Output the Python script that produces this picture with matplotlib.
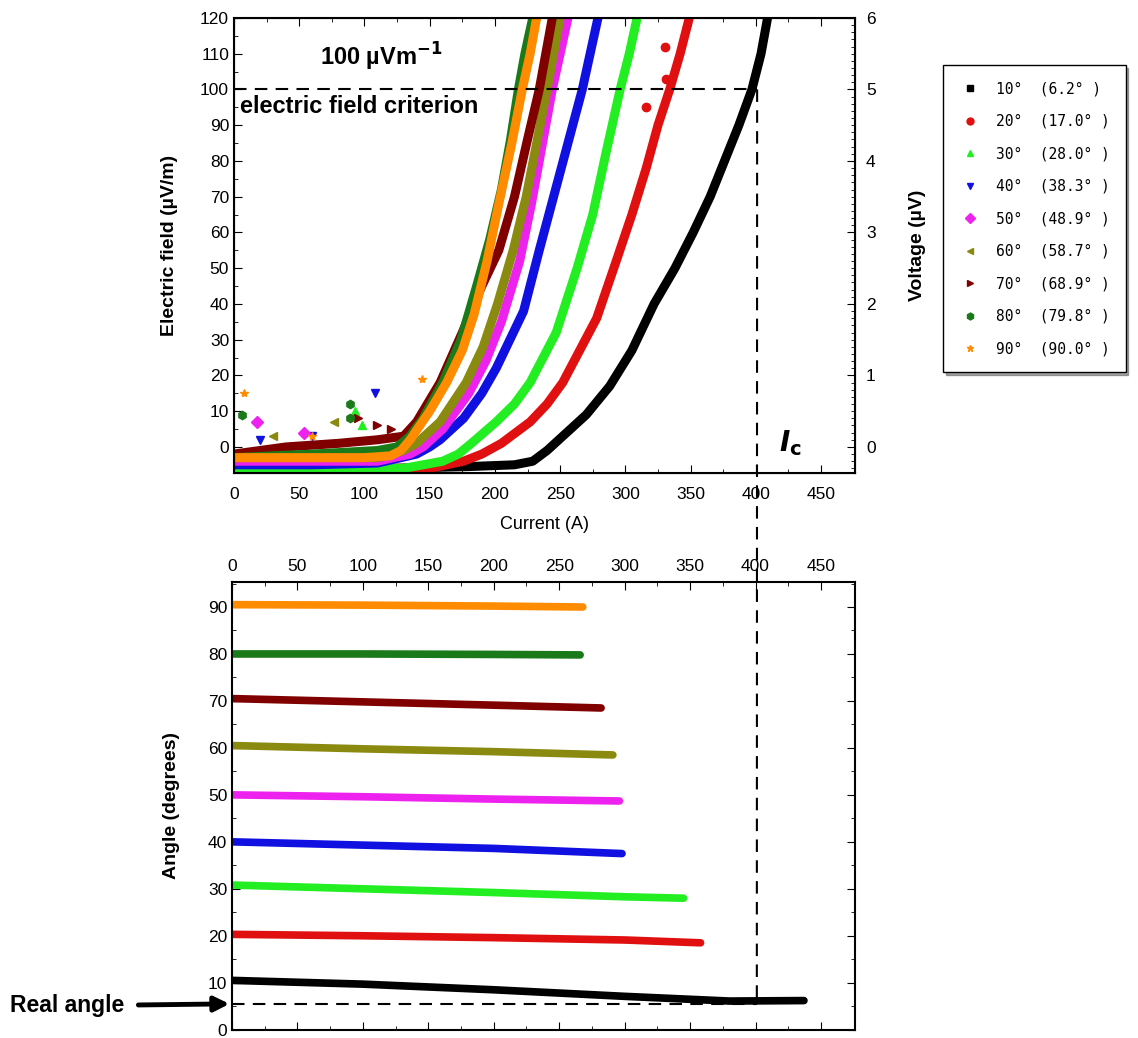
import matplotlib
matplotlib.use("Agg")
import matplotlib.pyplot as plt
from matplotlib.lines import Line2D
from matplotlib.ticker import MultipleLocator

plt.rcParams['font.family'] = ['Liberation Sans', 'DejaVu Sans']

# nominal / real angles
nominal = [10, 20, 30, 40, 50, 60, 70, 80, 90]
real = ["6.2", "17.0", "28.0", "38.3", "48.9", "58.7", "68.9", "79.8", "90.0"]
colors = ['black', '#e01010', '#22ee22', '#1010e0', '#ee22ee',
          '#8a8a10', '#800000', '#1a7a1a', '#ff8c00']
markers = ['s', 'o', '^', 'v', 'D', '<', '>', 'h', '*']

# electric field (uV/m) vs current (A)
I_10 = [0, 60, 120, 180, 215, 229, 240, 252, 270, 288, 305, 322, 338, 352, 365, 376, 387, 397, 404, 409]
E_10 = [-6, -6, -6, -5.5, -5, -4, -1, 3, 9, 17, 27, 40, 50, 60, 70, 80, 90, 100, 110, 120]
I_20 = [0, 80, 150, 176, 190, 205, 227, 240, 252, 265, 278, 293, 305, 316, 325, 334, 342, 349]
E_20 = [-6, -6, -6, -4, -2, 1, 7, 12, 18, 27, 36, 52, 65, 78, 90, 100, 110, 120]
I_30 = [0, 80, 130, 160, 172, 182, 201, 215, 227, 247, 263, 275, 285, 296, 303, 309]
E_30 = [-6, -6, -6, -4, -2, 1, 7, 12, 18, 32, 50, 65, 82, 100, 110, 120]
I_40 = [0, 60, 110, 140, 150, 158, 176, 190, 201, 222, 234, 245, 256, 267, 273, 279]
E_40 = [-5, -5, -4.5, -2, 0, 2, 8, 15, 22, 38, 55, 70, 85, 100, 110, 120]
I_50 = [0, 60, 110, 135, 145, 160, 180, 193, 205, 219, 228, 236, 244, 250, 256]
E_50 = [-4, -4, -4, -2, 0, 5, 15, 24, 35, 52, 68, 84, 100, 110, 120]
I_60 = [0, 60, 110, 130, 140, 158, 178, 191, 202, 214, 224, 232, 240, 245, 250]
E_60 = [-3, -3, -3, -1, 1, 7, 18, 28, 40, 55, 70, 85, 100, 110, 120]
I_70 = [0, 40, 80, 110, 130, 140, 158, 175, 190, 203, 215, 225, 234, 239, 244]
E_70 = [-2, 0, 1, 2, 3, 7, 18, 32, 45, 55, 70, 86, 100, 110, 120]
I_80 = [0, 60, 110, 125, 135, 145, 160, 174, 186, 196, 205, 212, 218, 223, 229]
E_80 = [-3, -2, -1, 0, 3, 8, 18, 30, 45, 58, 72, 86, 100, 110, 120]
I_90 = [0, 50, 100, 120, 128, 135, 150, 163, 175, 184, 194, 203, 213, 221, 227, 232]
E_90 = [-3, -3, -3, -2.5, -1, 2, 10, 18, 27, 37, 52, 68, 85, 100, 110, 120]

# scattered noise points at low current
noise_I = [[], [316, 330, 331], [93, 98], [108, 60, 20], [18, 54], [77, 30], [95, 110, 120], [6, 89, 89], [8, 144, 60]]
noise_E = [[], [95, 112, 103], [10, 6], [15, 3, 2], [7, 4], [7, 3], [8, 6, 5], [9, 12, 8], [15, 19, 3]]

# angle (degrees) vs current (A)
A_I = [[0, 100, 200, 300, 380, 437],
       [0, 100, 200, 300, 358],
       [0, 100, 200, 300, 345],
       [0, 100, 200, 298],
       [0, 100, 200, 296],
       [0, 100, 200, 291],
       [0, 100, 200, 282],
       [0, 100, 200, 266],
       [0, 100, 200, 268]]
A_val = [[10.5, 9.7, 8.5, 7.1, 6.1, 6.2],
         [20.3, 20.0, 19.6, 19.1, 18.5],
         [30.8, 30.0, 29.2, 28.3, 28.0],
         [40.0, 39.3, 38.6, 37.5],
         [50.0, 49.6, 49.1, 48.7],
         [60.5, 59.8, 59.2, 58.5],
         [70.5, 69.8, 69.1, 68.5],
         [80.0, 80.0, 79.9, 79.8],
         [90.5, 90.4, 90.2, 90.0]]

E_curves = [(I_10, E_10), (I_20, E_20), (I_30, E_30), (I_40, E_40), (I_50, E_50),
            (I_60, E_60), (I_70, E_70), (I_80, E_80), (I_90, E_90)]

Ic = 401
E_crit = 100
real_angle = 5.5

fig = plt.figure(figsize=(11.38, 10.38), dpi=100)
ax = fig.add_axes([0.2056, 0.5443, 0.5457, 0.4384])
axb = fig.add_axes([0.2039, 0.008, 0.5474, 0.4312])

for k, (xs, ys) in enumerate(E_curves):
    ax.plot(xs, ys, color=colors[k], lw=6.5, solid_capstyle='round', solid_joinstyle='round', zorder=2)
    ax.plot(noise_I[k], noise_E[k], ls='none', marker=markers[k], color=colors[k], ms=6, zorder=2)

ax.set_xlim(0, 476)
ax.set_ylim(-7.3, 120)
ax.xaxis.set_major_locator(MultipleLocator(50))
ax.xaxis.set_minor_locator(MultipleLocator(25))
ax.yaxis.set_major_locator(MultipleLocator(10))
ax.yaxis.set_minor_locator(MultipleLocator(5))
ax.tick_params(which='both', direction='in', top=True, labelsize=12.5)
ax.tick_params(axis='x', pad=10)
ax.tick_params(which='major', length=6)
ax.tick_params(which='minor', length=3)
for s in ax.spines.values():
    s.set_linewidth(1.5)
ax.set_xlabel("Current (A)", fontsize=13, labelpad=10)
ax.set_ylabel("Electric field (µV/m)", fontsize=14, fontweight='bold', labelpad=16)

ax2 = ax.twinx()
ax2.set_ylim(-7.3 / 20, 6)
ax2.yaxis.set_major_locator(MultipleLocator(1))
ax2.yaxis.set_minor_locator(MultipleLocator(0.1))
ax2.tick_params(which='both', direction='in', labelsize=12.5, pad=8)
ax2.tick_params(which='major', length=6)
ax2.tick_params(which='minor', length=3)
ax2.set_ylabel("Voltage (µV)", fontsize=14, fontweight='bold', labelpad=24)

# criterion line
ax.plot([0, Ic], [E_crit, E_crit], color='black', ls='--', lw=1.5, dashes=(6, 4), zorder=3)
ax.text(113, 109, "100 µVm$^{\\mathbf{-1}}$", fontsize=17, fontweight='bold', ha='center', va='center')
ax.text(5, 95.3, "electric field criterion", fontsize=17, fontweight='bold', ha='left', va='center')
ax.text(418, 1, "$\\boldsymbol{I}_{\\mathbf{c}}$", fontsize=20, ha='left', va='center')

# bottom panel
for k in range(9):
    axb.plot(A_I[k], A_val[k], color=colors[k], lw=5.5, solid_capstyle='round')
axb.set_xlim(0, 476)
axb.set_ylim(0, 95.3)
axb.xaxis.set_major_locator(MultipleLocator(50))
axb.xaxis.set_minor_locator(MultipleLocator(25))
axb.yaxis.set_major_locator(MultipleLocator(10))
axb.yaxis.set_minor_locator(MultipleLocator(5))
axb.tick_params(which='both', direction='in', top=True, right=True, bottom=True,
                labeltop=True, labelbottom=False, labelsize=12.5)
axb.tick_params(which='major', length=6)
axb.tick_params(which='minor', length=3)
axb.tick_params(axis='x', pad=6)
for s in axb.spines.values():
    s.set_linewidth(1.5)
axb.set_ylabel("Angle (degrees)", fontsize=14, fontweight='bold', labelpad=20)
axb.plot([0, Ic], [real_angle, real_angle], color='black', ls='--', lw=1.5, dashes=(6, 4))

axb.annotate("Real angle", xy=(-2, real_angle), xycoords='data',
             xytext=(0.009, 0.031), textcoords='figure fraction',
             fontsize=16.5, fontweight='bold', ha='left', va='center',
             annotation_clip=False,
             arrowprops=dict(arrowstyle='-|>', color='black', lw=3.5,
                             mutation_scale=22, shrinkA=8, shrinkB=0))

# vertical Ic line spanning both panels
inv = fig.transFigure.inverted()
p1 = inv.transform(ax.transData.transform((Ic, E_crit)))
p2 = inv.transform(axb.transData.transform((Ic, real_angle)))
fig.add_artist(Line2D([p1[0], p2[0]], [p1[1], p2[1]], transform=fig.transFigure,
                      color='black', ls='--', lw=1.5, dashes=(6, 4)))

# legend
handles = [Line2D([], [], ls='none', marker=markers[k], color=colors[k], ms=5) for k in range(9)]
labels = [f"{nominal[k]}°  ({real[k]}° )" for k in range(9)]
fig.legend(handles, labels, loc='upper left', bbox_to_anchor=(0.829, 0.937),
           borderaxespad=0, frameon=True, fancybox=False, shadow=True, edgecolor='black',
           prop={'family': 'DejaVu Sans Mono', 'size': 10.5},
           labelspacing=1.2, handletextpad=1.0, borderpad=1.1, handlelength=1.5)

fig.savefig("out.png", dpi=100)
